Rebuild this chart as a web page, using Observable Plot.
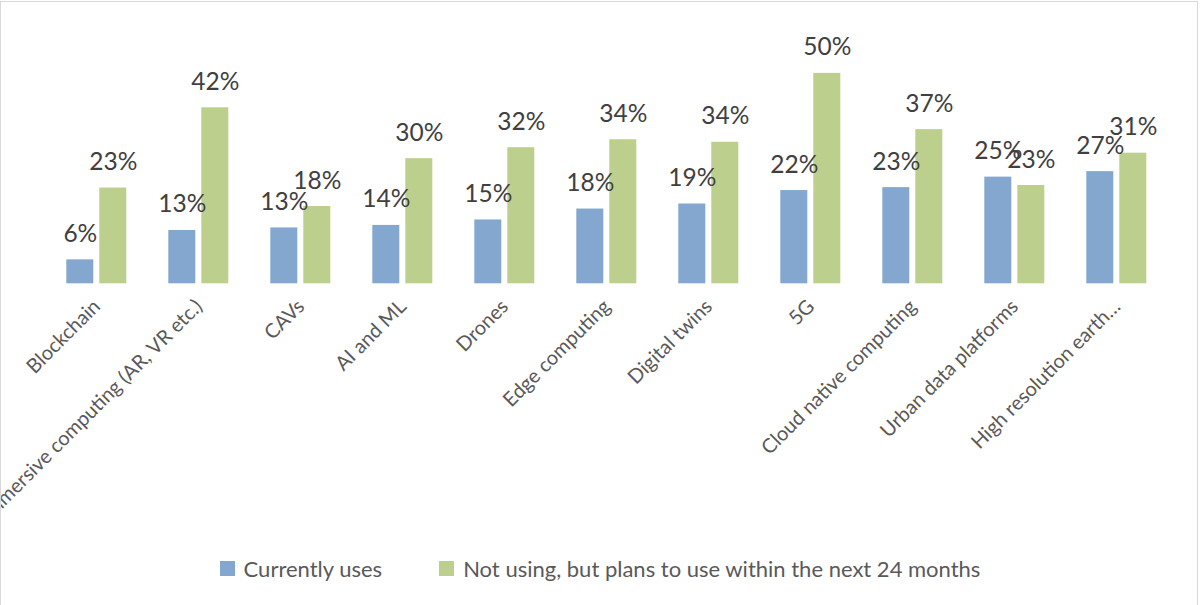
<!DOCTYPE html>
<html>
<head>
<meta charset="utf-8">
<script src="https://cdn.jsdelivr.net/npm/d3@7"></script>
<script src="https://cdn.jsdelivr.net/npm/@observablehq/plot@0.6"></script>
<style>
  html, body { margin: 0; padding: 0; background: #fff; }
  body { width: 1200px; height: 605px; position: relative; overflow: hidden; font-family: Lato, "Open Sans", sans-serif; }
  #chart { position: absolute; left: 0; top: 0; }
  #frame { position: absolute; left: 0; top: 1px; width: 1196px; height: 660px; border: 1px solid #d9d9d9; pointer-events: none; }
  #legend { position: absolute; left: 0; width: 1200px; top: 555px; display: flex; justify-content: center; align-items: center; gap: 57px; font-size: 22px; color: #595959; }
  .item { display: flex; align-items: center; }
  .sw { width: 15px; height: 15px; margin-right: 9px; }
</style>
</head>
<body>
<div id="chart"></div>
<div id="frame"></div>
<div id="legend"></div>
<script>
const categories = ["Blockchain", "Immersive computing (AR, VR etc.)", "CAVs", "AI and ML", "Drones", "Edge computing", "Digital twins", "5G", "Cloud native computing", "Urban data platforms", "High resolution earth…"];
const series = ["Currently uses", "Not using, but plans to use within the next 24 months"];
const currentlyUses = [5.7, 12.7, 13.3, 13.9, 15.2, 17.8, 19.0, 22.2, 22.9, 25.4, 26.7];
const plansToUse = [22.8, 41.9, 18.4, 29.8, 32.4, 34.3, 33.7, 50.1, 36.7, 23.4, 31.1];
const colors = ["#84a7cf", "#bdcf8d"];

const rows = [];
categories.forEach((c, i) => {
  rows.push({cat: c, series: series[0], value: currentlyUses[i]});
  rows.push({cat: c, series: series[1], value: plansToUse[i]});
});

const chart = Plot.plot({
  width: 1200,
  height: 540,
  marginTop: 73.3,
  marginBottom: 256.7,
  marginLeft: 41.7,
  marginRight: 29.7,
  style: {fontFamily: "Lato, 'Open Sans', sans-serif", background: "transparent"},
  fx: {domain: categories, padding: 0, axis: null},
  x: {domain: series, paddingInner: 0.19, paddingOuter: 0.6, axis: null},
  y: {domain: [0, 50], axis: null},
  color: {domain: series, range: colors},
  marks: [
    Plot.barY(rows, {fx: "cat", x: "series", y: "value", fill: "series"}),
    Plot.text(rows, {fx: "cat", x: "series", y: "value", text: d => Math.round(d.value) + "%", dy: -18, lineAnchor: "bottom", fontSize: 24.5, fill: "#404040"}),
    Plot.text(categories, {fx: d => d, text: d => d, frameAnchor: "bottom", rotate: -45, textAnchor: "end", dx: 5, dy: 24, fontSize: 20, fill: "#595959"})
  ]
});
document.getElementById("chart").appendChild(chart);

const legend = document.getElementById("legend");
series.forEach((s, i) => {
  const item = document.createElement("div");
  item.className = "item";
  const sw = document.createElement("div");
  sw.className = "sw";
  sw.style.background = colors[i];
  const t = document.createElement("span");
  t.textContent = s;
  item.appendChild(sw);
  item.appendChild(t);
  legend.appendChild(item);
});
</script>
</body>
</html>
